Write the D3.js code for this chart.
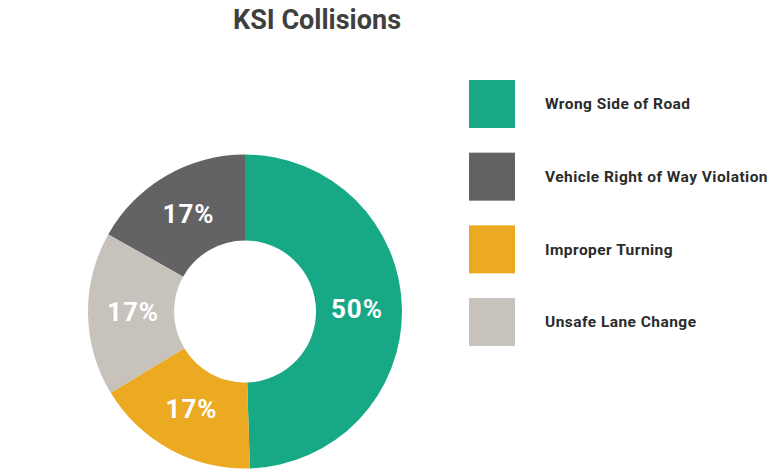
<!DOCTYPE html>
<html>
<head>
<meta charset="utf-8">
<script src="https://cdn.jsdelivr.net/npm/d3@7"></script>
<style>
  html, body { margin: 0; padding: 0; background: #fff; }
  svg { display: block; }
  text { font-family: Roboto, "DejaVu Sans", sans-serif; }
</style>
</head>
<body>
<svg id="chart" width="784" height="469"></svg>
<script>
const title = "KSI Collisions";
const categories = ["Wrong Side of Road", "Vehicle Right of Way Violation", "Improper Turning", "Unsafe Lane Change"];
const values = [50, 17, 17, 17];
const labels = ["50%", "17%", "17%", "17%"];
const colors = ["#17a985", "#636264", "#eca922", "#c7c2bb"];
const pieOrder = ["Wrong Side of Road", "Improper Turning", "Unsafe Lane Change", "Vehicle Right of Way Violation"];

const svg = d3.select("#chart");

svg.append("text")
  .attr("x", 317).attr("y", 29)
  .attr("text-anchor", "middle")
  .attr("font-size", 27).attr("font-weight", 700)
  .attr("fill", "#3f3f3f")
  .text(title);

const data = categories.map((c, i) => ({ cat: c, value: values[i], label: labels[i], color: colors[i] }));

const pie = d3.pie()
  .value(d => d.value)
  .sort((a, b) => pieOrder.indexOf(a.cat) - pieOrder.indexOf(b.cat));

const cx = 245, cy = 311.5, rOuter = 157, rInner = 71;
const arc = d3.arc().innerRadius(rInner).outerRadius(rOuter);
const labelArc = d3.arc().innerRadius(112).outerRadius(112);

const g = svg.append("g").attr("transform", `translate(${cx},${cy})`);
const arcs = pie(data);
g.selectAll("path").data(arcs).join("path")
  .attr("d", arc)
  .attr("fill", d => d.data.color);

g.selectAll("text.lbl").data(arcs).join("text")
  .attr("class", "lbl")
  .attr("transform", d => `translate(${labelArc.centroid(d)})`)
  .attr("text-anchor", "middle")
  .attr("dy", "0.3em")
  .attr("font-size", 26).attr("font-weight", 700)
  .attr("letter-spacing", 1)
  .attr("fill", "#ffffff")
  .text(d => d.data.label);

// legend
const ly = d3.scalePoint().domain(categories).range([80, 298]);
const leg = svg.append("g");
const items = leg.selectAll("g").data(data).join("g")
  .attr("transform", d => `translate(469,${ly(d.cat)})`);
items.append("rect")
  .attr("width", 46).attr("height", 48)
  .attr("fill", d => d.color);
items.append("text")
  .attr("x", 76).attr("y", 24)
  .attr("dy", "0.35em")
  .attr("font-size", 15.5).attr("font-weight", 700)
  .attr("letter-spacing", 0.45)
  .attr("fill", "#2b2b2b")
  .text(d => d.cat);
</script>
</body>
</html>
